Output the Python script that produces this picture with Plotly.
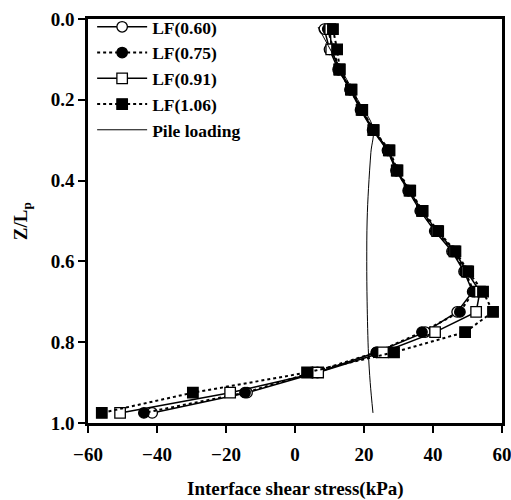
import plotly.graph_objects as go

# Depth ratio Z/Lp for the measured points
z = [0.025, 0.075, 0.125, 0.175, 0.225, 0.275, 0.325, 0.375, 0.425, 0.475,
     0.525, 0.575, 0.625, 0.675, 0.725, 0.775, 0.825, 0.875, 0.925, 0.975]

lf060 = [8.5, 10.0, 12.5, 16.0, 19.0, 22.5, 26.8, 29.3, 32.8, 36.3,
         40.5, 45.5, 49.0, 51.5, 47.0, 37.7, 23.6, 6.5, -13.9, -41.4]
lf075 = [9.5, 11.0, 12.7, 16.0, 19.2, 22.6, 27.0, 29.4, 33.0, 36.5,
         40.8, 45.8, 49.3, 51.8, 47.8, 36.8, 23.6, 5.0, -14.5, -43.8]
lf091 = [10.2, 10.5, 12.8, 16.2, 19.3, 22.7, 27.2, 29.5, 33.2, 36.8,
         41.2, 46.2, 49.8, 53.6, 52.5, 40.6, 25.5, 6.7, -18.8, -50.7]
lf106 = [11.0, 12.2, 13.0, 16.4, 19.5, 22.8, 27.4, 29.7, 33.4, 37.0,
         41.5, 46.5, 50.2, 54.5, 57.4, 49.3, 28.7, 3.5, -29.6, -56.0]

z_pile = [0.02, 0.10, 0.20, 0.27, 0.33, 0.42, 0.50, 0.60, 0.70, 0.83, 0.90, 0.975]
x_pile = [6.7, 11.8, 18.2, 22.6, 22.0, 21.3, 20.9, 20.8, 20.9, 21.3, 21.8, 22.6]

x_ticks = [-60, -40, -20, 0, 20, 40, 60]
y_ticks = [0.0, 0.2, 0.4, 0.6, 0.8, 1.0]

x_title = "Interface shear stress(kPa)"
y_title = "Z/L<sub>p</sub>"

FONT = "Times New Roman, Liberation Serif, serif"

fig = go.Figure()

series = [
    ("LF(0.60)", lf060, "solid", 1.5, "circle", "white"),
    ("LF(0.75)", lf075, "dot", 2.0, "circle", "black"),
    ("LF(0.91)", lf091, "solid", 1.5, "square", "white"),
    ("LF(1.06)", lf106, "dot", 2.0, "square", "black"),
]
for name, xs, dash, lw, sym, fill in series:
    fig.add_trace(go.Scatter(
        x=xs, y=z, name=name, mode="lines+markers",
        line=dict(color="black", width=lw, dash=dash),
        marker=dict(symbol=sym, size=10.5, color=fill,
                    line=dict(color="black", width=1.3)),
    ))

fig.add_trace(go.Scatter(
    x=x_pile, y=z_pile, name="Pile loading", mode="lines",
    line=dict(color="black", width=1, shape="spline"),
))

axis_common = dict(
    showline=True, linewidth=2.5, linecolor="black", mirror=True,
    ticks="outside", ticklen=7, tickwidth=2, tickcolor="black",
    showgrid=False, zeroline=False, automargin=False,
    ticklabeloverflow="allow",
    tickfont=dict(family=FONT, size=19, color="black", weight="bold"),
)

fig.update_layout(
    width=511, height=500,
    margin=dict(l=88, r=9, t=12, b=77),
    paper_bgcolor="white", plot_bgcolor="white",
    font=dict(family=FONT, size=19, color="black", weight="bold"),
    xaxis=dict(range=[-60, 60], tickvals=x_ticks, ticklabelstandoff=5,
               **axis_common),
    yaxis=dict(range=[1.0, 0.0], tickvals=y_ticks, tickformat=".1f",
               **axis_common),
    legend=dict(x=0.01, y=1.025, xanchor="left", yanchor="top",
                bgcolor="rgba(0,0,0,0)", borderwidth=0,
                font=dict(family=FONT, size=17.5, color="black", weight="bold"),
                itemwidth=50, tracegroupgap=0),
    showlegend=True,
    annotations=[
        dict(text=x_title, xref="paper", yref="paper", x=0.5, y=-0.163,
             xanchor="center", yanchor="middle", showarrow=False,
             font=dict(family=FONT, size=19, color="black", weight="bold")),
        dict(text=y_title, xref="paper", yref="paper", x=-0.159, y=0.5,
             xanchor="center", yanchor="middle", showarrow=False, textangle=-90,
             font=dict(family=FONT, size=19, color="black", weight="bold")),
    ],
)

fig.write_html("out.html")
